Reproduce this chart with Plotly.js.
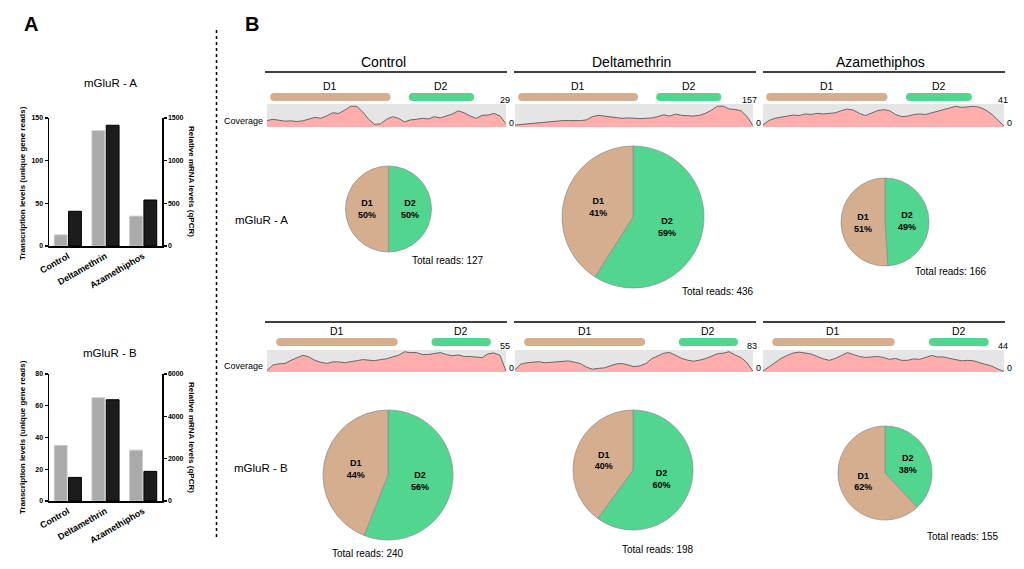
<!DOCTYPE html>
<html>
<head>
<meta charset="utf-8">
<script src="https://cdn.plot.ly/plotly-3.0.1.min.js"></script>
<style>html,body{margin:0;padding:0;background:#fff;}#chart{width:1024px;height:569px;}</style>
</head>
<body>
<div id="chart"></div>
<script>
// ---------------- DATA ----------------
const treatments = ["Control", "Deltamethrin", "Azamethiphos"];
// Panel A: transcription levels (unique gene reads, left axis) and qPCR (right axis)
const mglurA_reads = [13, 135, 35];
const mglurA_qpcr = [407, 1415, 539];
const mglurB_reads = [35, 65, 32];
const mglurB_qpcr = [1115, 4785, 1400];

// Panel B: pie proportions D1 / D2 (%)
const pieLabels = ["D1", "D2"];
const pieA = [[50, 50], [41, 59], [51, 49]];
const pieB = [[44, 56], [40, 60], [62, 38]];
const totalReadsA = [127, 436, 166];
const totalReadsB = [240, 198, 155];

// Coverage tracks (relative gene position 0-100)
const covPos = [0,2.5,5,7.5,10,12.5,15,17.5,20,22.5,25,27.5,30,32.5,35,37.5,40,42.5,45,47.5,50,52.5,55,57.5,60,62.5,65,67.5,70,72.5,75,77.5,80,82.5,85,87.5,90,92.5,95,97.5,100];
const covMaxA = [29, 157, 41];
const covMaxB = [55, 83, 44];
const covA_control = [8.4,10,8.8,7.6,8,7.1,8,10,12.6,11.3,14.3,18.5,17.6,21.9,26.9,26.9,19.8,10,3.4,4.2,10,13.4,11.3,6.7,9.2,10,11.3,10.5,13.4,11.8,14.7,16.8,21,18.5,14.3,11.3,15.1,15.5,17.6,14.3,4.2];
const covA_delta = [14,18,25,27,32,36,39,41,45,45,43,45,50,73,82,77,68,64,61,64,61,59,61,64,73,86,77,91,82,80,77,82,96,118,146,146,127,123,114,73,9];
const covA_azam = [4,12,16,18,20,22,21,24,23,25,24,25,26,30,33,31,25,21,25,30,32,30,23,19,20,23,24,23,26,29,33,36,38,36,37,38,36,31,23,13,2];
const covB_control = [4,18,21,22,30,37,43,39,30,25,22,26,26,24,26,29,32,30,29,32,34,39,43,52,50,50,45,45,47,50,45,42,44,40,40,39,37,47,49,43,2];
const covB_delta = [9,31,36,38,40,36,38,40,41,43,38,33,19,11,14,16,24,31,33,28,21,24,33,52,64,73,76,63,53,46,42,46,52,61,71,73,79,66,56,36,2];
const covB_azam = [2,11,19,28,34,39,41,39,37,32,27,24,28,34,40,36,32,30,31,32,30,26,28,24,24,27,26,30,34,31,31,28,26,23,24,23,19,16,12,6,1];

// Domain positions along gene (relative 0-100)
const domainsA = {D1: [3, 50], D2: [61, 85]};
const domainsB = {D1: [5.5, 53], D2: [70.5, 92]};

// ---------------- STYLE / LAYOUT ----------------
const W = 1024, H = 569;
const X = px => px / W;
const Y = py => 1 - py / H;
const FONT = "Arial, 'Liberation Sans', Helvetica, sans-serif";
const C_D1 = "#D5AE90", C_D2 = "#52D58E";
const C_GRAY = "#AAAAAA", C_BLACK = "#1C1C1C";

const traces = [];
const layout = {
  width: W, height: H,
  margin: {l: 0, r: 0, t: 0, b: 0},
  paper_bgcolor: "#fff", plot_bgcolor: "rgba(0,0,0,0)",
  showlegend: false,
  font: {family: FONT, color: "#000"},
  barmode: "group",
  annotations: [], shapes: []
};

// ---- Panel A bar charts ----
function barAxes(xn, yl, yr, ydom, leftMax, leftDtick, rightMax, rightDtick) {
  layout["xaxis" + (xn === 1 ? "" : xn)] = {
    domain: [X(49), X(162)], type: "category", anchor: "y" + (yl === 1 ? "" : yl),
    showline: true, linewidth: 1.5, linecolor: "#000", ticks: "", showgrid: false,
    tickangle: -30, tickfont: {size: 9, family: FONT, weight: "bold", color: "#000"}, range: [-0.5, 2.5], fixedrange: true
  };
  layout["yaxis" + (yl === 1 ? "" : yl)] = {
    domain: ydom, range: [0, leftMax], dtick: leftDtick, anchor: "x" + (xn === 1 ? "" : xn),
    showline: true, linewidth: 1.5, linecolor: "#000", ticks: "outside", ticklen: 3, tickwidth: 1.2, tickcolor: "#000",
    showgrid: false, zeroline: false, tickfont: {size: 7, weight: "bold", color: "#000"}
  };
  layout["yaxis" + yr] = {
    domain: ydom, range: [0, rightMax], dtick: rightDtick, overlaying: "y" + (yl === 1 ? "" : yl),
    anchor: "x" + (xn === 1 ? "" : xn), side: "right",
    showline: true, linewidth: 1.5, linecolor: "#000", ticks: "outside", ticklen: 3, tickwidth: 1.2, tickcolor: "#000",
    showgrid: false, zeroline: false, tickfont: {size: 7, weight: "bold", color: "#000"}
  };
}
barAxes(1, 1, 2, [Y(246), Y(118)], 150, 50, 1500, 500);
barAxes(2, 3, 4, [Y(501), Y(374)], 80, 20, 6000, 2000);

function addBars(xa, yl, yr, reads, qpcr) {
  traces.push({type: "bar", x: treatments, y: reads, xaxis: xa, yaxis: yl,
    width: 0.34, offset: -0.36, marker: {color: C_GRAY, line: {color: "#c8c8c8", width: 1}}, hoverinfo: "y"});
  traces.push({type: "bar", x: treatments, y: qpcr, xaxis: xa, yaxis: yr,
    width: 0.34, offset: 0.02, marker: {color: C_BLACK, line: {color: "#000", width: 1}}, hoverinfo: "y"});
}
addBars("x", "y", "y2", mglurA_reads, mglurA_qpcr);
addBars("x2", "y3", "y4", mglurB_reads, mglurB_qpcr);

function ann(text, px, py, opts) {
  layout.annotations.push(Object.assign({
    text: text, x: X(px), y: Y(py), xref: "paper", yref: "paper",
    showarrow: false, xanchor: "center", yanchor: "middle",
    font: {size: 10, family: FONT, color: "#000"}
  }, opts || {}));
}
ann("mGluR - A", 110, 83, {font: {size: 11.5, family: FONT, color: "#000"}});
ann("mGluR - B", 110, 353, {font: {size: 11.5, family: FONT, color: "#000"}});
const axT = {size: 8, family: FONT, weight: "bold", color: "#000"};
ann("Transcription levels (unique gene reads)", 22, 183, {textangle: -90, font: axT});
ann("Relative mRNA levels (qPCR)", 192, 181, {textangle: 90, font: axT});
ann("Transcription levels (unique gene reads)", 22, 437, {textangle: -90, font: axT});
ann("Relative mRNA levels (qPCR)", 192, 437, {textangle: 90, font: axT});

ann("A", 31, 24, {font: {size: 20, family: FONT, weight: "bold", color: "#000"}});
ann("B", 252, 24, {font: {size: 20, family: FONT, weight: "bold", color: "#000"}});
layout.shapes.push({type: "line", xref: "paper", yref: "paper", x0: X(216.5), x1: X(216.5), y0: Y(30), y1: Y(540),
  line: {color: "#000", width: 1.5, dash: "dot"}});

// ---- Panel B ----
const boxes = [[267, 506], [515, 753], [763, 1004]];
const headerLines = [[265, 507], [514, 756], [763, 1005]];
const rows = [
  {cov: [covA_control, covA_delta, covA_azam], max: covMaxA, dom: domainsA, line: 72, lab: 86, bar: [91, 103], box: [104, 127]},
  {cov: [covB_control, covB_delta, covB_azam], max: covMaxB, dom: domainsB, line: 322, lab: 331, bar: [336, 348], box: [350, 372]}
];
treatments.forEach((t, c) => ann(t, (boxes[c][0] + boxes[c][1]) / 2 - 3, 62, {font: {size: 14, family: FONT, color: "#000"}}));

rows.forEach((row, r) => {
  for (let c = 0; c < 3; c++) {
    const i = r * 3 + c;
    const xn = "x" + (3 + i), yc = "y" + (5 + i), yd = "y" + (11 + i);
    layout["xaxis" + (3 + i)] = {domain: [X(boxes[c][0]), X(boxes[c][1])], range: [0, 100], anchor: yc, visible: false, fixedrange: true};
    layout["yaxis" + (5 + i)] = {domain: [Y(row.box[1]), Y(row.box[0])], range: [0, row.max[c] * 1.03], anchor: xn, visible: false, fixedrange: true};
    layout["yaxis" + (11 + i)] = {domain: [Y(row.bar[1]), Y(row.bar[0])], range: [0, 1], anchor: xn, visible: false, fixedrange: true};
    layout.shapes.push({type: "rect", xref: xn + " domain", yref: yc + " domain", x0: 0, x1: 1, y0: 0, y1: 1,
      fillcolor: "#E5E5E5", line: {width: 0}, layer: "below"});
    traces.push({type: "scatter", mode: "lines", x: covPos, y: row.cov[c], xaxis: xn, yaxis: yc,
      line: {color: "#5a5a5a", width: 0.9}, fill: "tozeroy", fillcolor: "#FFADAD", hoverinfo: "skip"});
    ["D1", "D2"].forEach(d => {
      const col = d === "D1" ? C_D1 : C_D2;
      traces.push({type: "scatter", mode: "lines+markers", x: row.dom[d], y: [0.5, 0.5], xaxis: xn, yaxis: yd,
        line: {color: col, width: 8}, marker: {color: col, size: 8}, hoverinfo: "skip", cliponaxis: false});
      const mid = (row.dom[d][0] + row.dom[d][1]) / 2;
      layout.annotations.push({text: d, x: mid, xref: xn, y: Y(row.lab), yref: "paper", showarrow: false,
        xanchor: "center", yanchor: "middle", font: {size: 10.5, family: FONT, color: "#000"}});
    });
    ann(String(row.max[c]), boxes[c][1] + 6, row.box[0] - 4, {xanchor: "right", font: {size: 9, family: FONT, color: "#000"}});
    ann("0", boxes[c][1] + 1, row.box[1] - 4, {xanchor: "left", font: {size: 9, family: FONT, color: "#000"}});
    layout.shapes.push({type: "line", xref: "paper", yref: "paper", x0: X(headerLines[c][0]), x1: X(headerLines[c][1]),
      y0: Y(row.line), y1: Y(row.line), line: {color: "#000", width: 1.6}});
  }
  ann("Coverage", 243, row.box[1] - 6, {font: {size: 9, family: FONT, color: "#000"}});
});

// Pies: D2 drawn first so it starts at 12 o'clock on the right, D1 ends on the left
const pieGeomA = [[388.5, 209, 43], [633, 217, 71], [885, 222, 44]];
const pieGeomB = [[388, 475, 65], [633, 470, 60], [885, 473, 47]];
function addPie(vals, g) {
  const [cx, cy, rr] = g;
  traces.push({type: "pie", labels: [pieLabels[1], pieLabels[0]], values: [vals[1], vals[0]],
    sort: false, direction: "counterclockwise", rotation: 0,
    domain: {x: [X(cx - rr), X(cx + rr)], y: [Y(cy + rr), Y(cy - rr)]},
    marker: {colors: [C_D2, C_D1], line: {color: "rgba(140,140,140,0.7)", width: 1}},
    texttemplate: "%{label}<br>%{percent:.0%}", textposition: "inside", insidetextorientation: "horizontal",
    textfont: {size: 9, family: FONT, color: "#000", weight: "bold"}, hoverinfo: "label+percent"});
}
pieA.forEach((v, c) => addPie(v, pieGeomA[c]));
pieB.forEach((v, c) => addPie(v, pieGeomB[c]));

ann("mGluR - A", 261, 220, {font: {size: 11.5, family: FONT, color: "#000"}});
ann("mGluR - B", 261, 468, {font: {size: 11.5, family: FONT, color: "#000"}});

const trA = [[410, 260], [680, 291], [913, 271]];
const trB = [[330, 553], [620, 549], [925, 536]];
totalReadsA.forEach((v, c) => ann("Total reads: " + v, trA[c][0], trA[c][1], {xanchor: "left", font: {size: 10, family: FONT, color: "#000"}}));
totalReadsB.forEach((v, c) => ann("Total reads: " + v, trB[c][0], trB[c][1], {xanchor: "left", font: {size: 10, family: FONT, color: "#000"}}));

Plotly.newPlot("chart", traces, layout, {staticPlot: true, displayModeBar: false});
</script>
</body>
</html>
